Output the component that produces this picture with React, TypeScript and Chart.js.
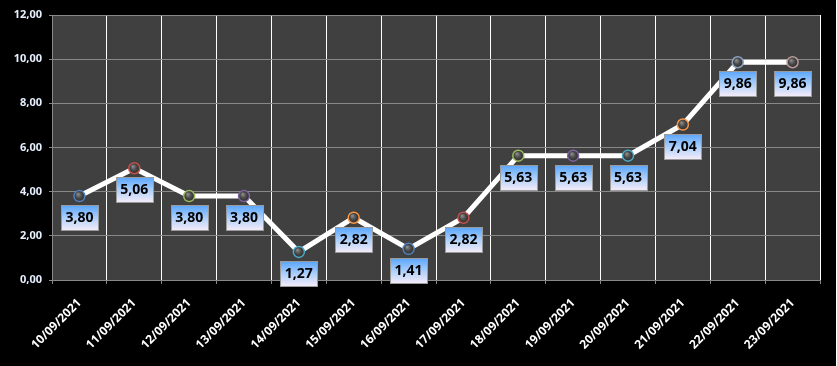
import React, { useEffect, useRef } from "react";
import { Chart, registerables } from "chart.js";

Chart.register(...registerables);

const categories = [
  "10/09/2021", "11/09/2021", "12/09/2021", "13/09/2021", "14/09/2021",
  "15/09/2021", "16/09/2021", "17/09/2021", "18/09/2021", "19/09/2021",
  "20/09/2021", "21/09/2021", "22/09/2021", "23/09/2021",
];
const values = [3.8, 5.06, 3.8, 3.8, 1.27, 2.82, 1.41, 2.82, 5.63, 5.63, 5.63, 7.04, 9.86, 9.86];
const pointColors = [
  "#4F81BD", "#C0504D", "#9BBB59", "#8064A2", "#4BACC6", "#F79646", "#4F81BD",
  "#C0504D", "#9BBB59", "#8064A2", "#4BACC6", "#F79646", "#8EA3C2", "#B99A98",
];
const yMin = 0;
const yMax = 12;
const yStep = 2;

const fmt = (v: number) => v.toFixed(2).replace(".", ",");

const bgPlugin = {
  id: "plotBg",
  beforeDraw(chart: any) {
    const { ctx, chartArea: a } = chart;
    ctx.save();
    ctx.fillStyle = "#000000";
    ctx.fillRect(0, 0, chart.width, chart.height);
    ctx.fillStyle = "#404040";
    ctx.fillRect(a.left, a.top, a.right - a.left, a.bottom - a.top);
    ctx.restore();
  },
};

const labelPlugin = {
  id: "valueLabels",
  afterDatasetsDraw(chart: any) {
    const { ctx } = chart;
    const meta = chart.getDatasetMeta(0);
    ctx.save();
    meta.data.forEach((pt: any, i: number) => {
      const x = pt.x, y = pt.y, r = 5.5;
      const g = ctx.createRadialGradient(x - 1.5, y - 2, 0.5, x, y, r);
      g.addColorStop(0, "#8a8a8a");
      g.addColorStop(0.5, "#4a4a4a");
      g.addColorStop(1, "#2a2a2a");
      ctx.beginPath();
      ctx.arc(x, y, r, 0, Math.PI * 2);
      ctx.fillStyle = g;
      ctx.fill();
      ctx.lineWidth = 1.5;
      ctx.strokeStyle = pointColors[i];
      ctx.stroke();
    });
    ctx.font = "bold 14px 'Noto Sans'";
    ctx.textAlign = "center";
    ctx.textBaseline = "middle";
    meta.data.forEach((pt: any, i: number) => {
      const w = 37, h = 25;
      const bx = Math.round(pt.x - w / 2) + 0.5;
      const by = Math.round(pt.y + 9) + 0.5;
      const g = ctx.createLinearGradient(0, by, 0, by + h);
      g.addColorStop(0, "#5aa6fb");
      g.addColorStop(0.55, "#b4d3fb");
      g.addColorStop(1, "#f6ecf8");
      ctx.fillStyle = g;
      ctx.fillRect(bx, by, w, h);
      ctx.strokeStyle = "#9a9a9a";
      ctx.lineWidth = 1;
      ctx.strokeRect(bx, by, w, h);
      ctx.fillStyle = "#000000";
      ctx.fillText(fmt(values[i]), pt.x, by + h / 2 + 0.5);
    });
    ctx.restore();
  },
};

export default function App() {
  const ref = useRef<HTMLCanvasElement>(null);
  useEffect(() => {
    document.body.style.margin = "0";
    document.body.style.background = "#ffffff";
    const chart = new Chart(ref.current!, {
      type: "line",
      data: {
        labels: categories,
        datasets: [
          {
            data: values,
            borderColor: "#ffffff",
            borderWidth: 5,
            pointRadius: 0,
            tension: 0,
          },
        ],
      },
      options: {
        animation: false,
        responsive: false,
        layout: { padding: { left: 0, right: 16, top: 15, bottom: 0 } },
        plugins: { legend: { display: false }, tooltip: { enabled: false } },
        scales: {
          x: {
            offset: true,
            grid: {
              offset: true,
              color: "#ffffff",
              lineWidth: 1,
              tickColor: "#888888",
              tickLength: 4,
            },
            border: { color: "#888888" },
            ticks: {
              color: "#ffffff",
              font: { family: "'Noto Sans'", size: 12, weight: "bold" },
              maxRotation: 45,
              minRotation: 45,
              padding: 12,
              autoSkip: false,
            },
            afterFit: (s: any) => { s.height = 86; },
          },
          y: {
            min: yMin,
            max: yMax,
            grid: { color: "#888888", lineWidth: 1, tickLength: 3, tickColor: "#888888" },
            border: { color: "#888888" },
            ticks: {
              stepSize: yStep,
              color: "#e6f0ff",
              font: { family: "'Noto Sans'", size: 11, weight: "bold" },
              padding: 7,
              callback: (v: any) => fmt(Number(v)),
            },
            afterFit: (s: any) => { s.width = 52; },
          },
        },
      },
      plugins: [bgPlugin, labelPlugin],
    });
    return () => chart.destroy();
  }, []);
  return <canvas ref={ref} width={836} height={366} style={{ display: "block" }} />;
}
